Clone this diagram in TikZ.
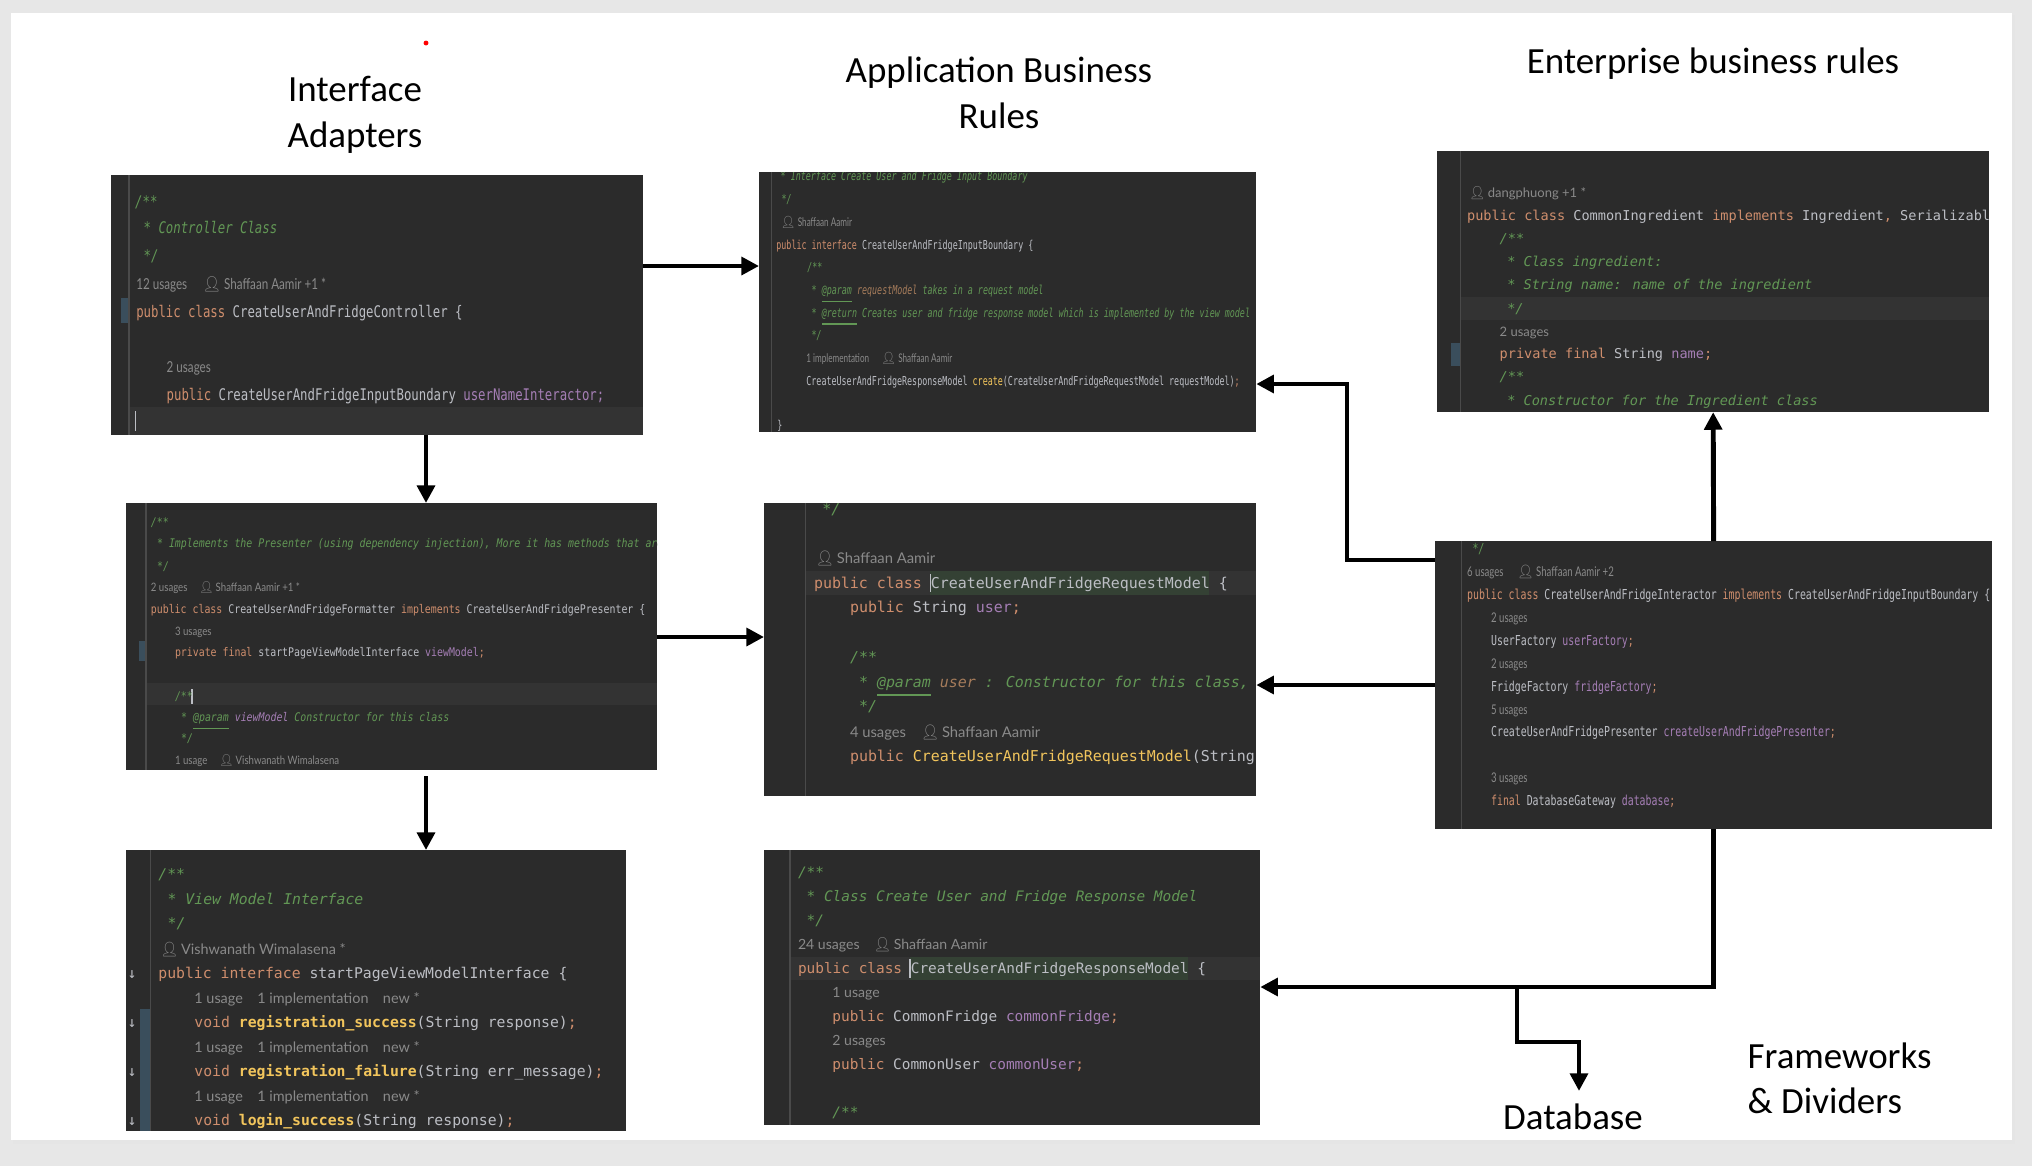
\documentclass[tikz,border=0pt]{standalone}
\usepackage{fontspec}
\usetikzlibrary{arrows.meta}
\newfontfamily\titlefont{Carlito}
\newfontfamily\emofont{Noto Emoji}
\newcommand\pf[2]{\fontspec[FakeStretch=#1]{DejaVu Sans Mono}\fontsize{#2pt}{#2pt}\selectfont}
\newcommand\hf[2]{\fontspec[FakeStretch=#1]{Lato}\fontsize{#2pt}{#2pt}\selectfont}
\definecolor{pagebg}{HTML}{E7E7E7}
\definecolor{ide}{HTML}{2B2B2B}
\definecolor{rowbg}{HTML}{333333}
\definecolor{clshl}{HTML}{344134}
\definecolor{gutline}{HTML}{4A4A4A}
\definecolor{chg}{HTML}{3A4E5C}
\definecolor{txt}{HTML}{BCBEC4}
\definecolor{kwd}{HTML}{CF8E6D}
\definecolor{cmt}{HTML}{629755}
\definecolor{fldc}{HTML}{A57EB5}
\definecolor{prmc}{HTML}{A67C5B}
\definecolor{mthc}{HTML}{F2C55C}
\definecolor{hnt}{HTML}{8A8A8A}
\newcommand\kw[1]{\textcolor{kwd}{#1}}
\newcommand\cmnt[1]{\textcolor{cmt}{\itshape #1}}
\newcommand\fld[1]{\textcolor{fldc}{#1}}
\newcommand\prm[1]{\textcolor{prmc}{#1}}
\newcommand\mth[1]{\textcolor{mthc}{#1}}
\newcommand\tg[1]{\underline{#1}}
\newcommand\usr{{\emofont\char"1F464}\,}
\tikzset{
  panel/.style={fill=ide, anchor=north west, inner sep=0pt, outer sep=0pt},
  ln/.style={anchor=base west, inner sep=0pt, text=txt},
  flow/.style={line width=1.4pt, -{Triangle[length=5pt,width=5pt]}},
  title/.style={font=\titlefont\fontsize{10.5pt}{12.8pt}\selectfont, align=center, anchor=base},
  gut/.style={draw=gutline, line width=0.3pt},
}
\begin{document}
\begin{tikzpicture}[x=0.01cm,y=-0.01cm]
\useasboundingbox (0,0) rectangle (2032,1166);
\fill[pagebg] (0,0) rectangle (2032,1166);
\fill[black!10] (13,15) rectangle (2015,1144);
\fill[white] (11,13) rectangle (2012,1140);
\fill[red] (426,43) circle (0.7pt);
% titles (base = last line)
\node[title] (tia) at (355,147) {Interface\\Adapters};
\node[title] (tabr) at (999,128) {Application Business\\Rules};
\node[title] (tebr) at (1713,73) {Enterprise business rules};
\node[title] (db) at (1573,1129) {Database};
\node[title, anchor=base west, align=left, inner sep=0pt] (tfd) at (1747,1113) {Frameworks\\\& Dividers};
% code screenshots
\node[panel, minimum width=5.32cm, minimum height=2.60cm] (ctrl) at (111,175) {};
\node[panel, minimum width=4.97cm, minimum height=2.60cm] (ibound) at (759,172) {};
\node[panel, minimum width=5.52cm, minimum height=2.61cm] (ingr) at (1437,151) {};
\node[panel, minimum width=5.31cm, minimum height=2.67cm] (fmt) at (126,503) {};
\node[panel, minimum width=4.92cm, minimum height=2.93cm] (reqm) at (764,503) {};
\node[panel, minimum width=5.57cm, minimum height=2.88cm] (inter) at (1435,541) {};
\node[panel, minimum width=5.00cm, minimum height=2.81cm] (vmi) at (126,850) {};
\node[panel, minimum width=4.96cm, minimum height=2.75cm] (resp) at (764,850) {};
% controller
\begin{scope}[shift={(ctrl.north west)}, code/.style={ln, font=\pf{0.77}{4.55}}, hint/.style={ln, text=hnt, font=\hf{0.77}{4.3}}]
  \clip (0,0) rectangle (532,260);
  \fill[rowbg] (18,232) rectangle (532,260);
  \fill[chg] (9.6,123) rectangle (18,148);
  \draw[gut] (18,0) -- (18,260);
  \draw[txt, line width=0.4pt] (24.6,236) -- (24.6,256);
  \node[code] (c1) at (23.5,32) {\cmnt{/**}};
  \node[code] (c2) at (32,58) {\cmnt{* Controller Class}};
  \node[code] (c3) at (32,86) {\cmnt{*/}};
  \node[hint] (c4) at (24.6,114) {12 usages\quad\usr Shaffaan Aamir +1 *};
  \node[code] (c5) at (24.6,142) {\kw{public class} CreateUserAndFridgeController \{};
  \node[hint] (c6) at (55,197) {2 usages};
  \node[code] (c7) at (55,225) {\kw{public} CreateUserAndFridgeInputBoundary \fld{userNameInteractor;}};
\end{scope}
% input boundary
\begin{scope}[shift={(ibound.north west)}, code/.style={ln, font=\pf{0.68}{3.5}}, hint/.style={ln, text=hnt, font=\hf{0.68}{3.4}}]
  \clip (0,0) rectangle (497,260);
  \draw[gut] (12.7,0) -- (12.7,260);
  \node[code] (b1) at (21,8) {\cmnt{* Interface Create User and Fridge Input Boundary}};
  \node[code] (b2) at (22,31) {\cmnt{*/}};
  \node[hint] (b3) at (21,54) {\usr Shaffaan Aamir};
  \node[code] (b4) at (16.7,77) {\kw{public interface} CreateUserAndFridgeInputBoundary \{};
  \node[code] (b5) at (47.7,99) {\cmnt{/**}};
  \node[code] (b6) at (52,122) {\cmnt{* \tg{@param} \prm{requestModel} takes in a request model}};
  \node[code] (b7) at (52,145) {\cmnt{* \tg{@return} Creates user and fridge response model which is implemented by the view model}};
  \node[code] (b8) at (52,167) {\cmnt{*/}};
  \node[hint] (b9) at (46.7,190) {1 implementation\quad\usr Shaffaan Aamir};
  \node[code] (b10) at (46.7,213) {CreateUserAndFridgeResponseModel \mth{create}(CreateUserAndFridgeRequestModel requestModel)\kw{;}};
  \node[code] (b11) at (17.7,257) {\}};
\end{scope}
% ingredient
\begin{scope}[shift={(ingr.north west)}, code/.style={ln, font=\pf{1}{3.86}}, hint/.style={ln, text=hnt, font=\hf{1}{3.7}}]
  \clip (0,0) rectangle (552,261);
  \fill[rowbg] (23.7,145.7) rectangle (552,169);
  \fill[chg] (14,192) rectangle (22.5,215);
  \draw[gut] (23.7,0) -- (23.7,261);
  \node[hint] (g1) at (31.4,46) {\usr dangphuong +1 *};
  \node[code] (g2) at (29.4,69) {\kw{public class} CommonIngredient \kw{implements} Ingredient\kw{,} Serializable \{};
  \node[code] (g3) at (62,92) {\cmnt{/**}};
  \node[code] (g4) at (69.6,115) {\cmnt{* Class ingredient:}};
  \node[code] (g5) at (69.6,138) {\cmnt{* String name: name of the ingredient}};
  \node[code] (g6) at (69.6,162) {\cmnt{*/}};
  \node[hint] (g7) at (62,185) {2 usages};
  \node[code] (g8) at (62,207) {\kw{private final} String \fld{name}\kw{;}};
  \node[code] (g9) at (62,230) {\cmnt{/**}};
  \node[code] (g10) at (69.6,254) {\cmnt{* Constructor for the Ingredient class}};
\end{scope}
% formatter
\begin{scope}[shift={(fmt.north west)}, code/.style={ln, font=\pf{0.83}{3.39}}, hint/.style={ln, text=hnt, font=\hf{0.83}{3.3}}]
  \clip (0,0) rectangle (531,267);
  \fill[rowbg] (20,180) rectangle (531,202);
  \fill[chg] (13,138) rectangle (19.4,158);
  \draw[gut] (20,0) -- (20,267);
  \draw[txt, line width=0.4pt] (66,186) -- (66,201);
  \node[code] (f1) at (24.2,23) {\cmnt{/**}};
  \node[code] (f2) at (30.4,44.5) {\cmnt{* Implements the Presenter (using dependency injection), More it has methods that are}};
  \node[code] (f3) at (30.4,67) {\cmnt{*/}};
  \node[hint] (f4) at (24.2,88) {2 usages\quad\usr Shaffaan Aamir +1 *};
  \node[code] (f5) at (24.2,110) {\kw{public class} CreateUserAndFridgeFormatter \kw{implements} CreateUserAndFridgePresenter \{};
  \node[hint] (f6) at (48.3,132) {3 usages};
  \node[code] (f7) at (48.3,153) {\kw{private final} startPageViewModelInterface \fld{viewModel}\kw{;}};
  \node[code] (f8) at (48.3,197) {\cmnt{/**}};
  \node[code] (f9) at (54.5,218) {\cmnt{* \tg{@param} \fld{viewModel} Constructor for this class}};
  \node[code] (f10) at (54.5,239) {\cmnt{*/}};
  \node[hint] (f11) at (48.3,261) {1 usage\quad\usr Vishwanath Wimalasena};
\end{scope}
% request model
\begin{scope}[shift={(reqm.north west)}, code/.style={ln, font=\pf{1}{4.25}}, hint/.style={ln, text=hnt, font=\hf{1}{4.2}}]
  \clip (0,0) rectangle (492,293);
  \fill[rowbg] (41.7,68.3) rectangle (492,91.7);
  \fill[clshl] (166.3,68.3) rectangle (445.3,91.7);
  \draw[gut] (41.7,0) -- (41.7,293);
  \draw[txt, line width=0.4pt] (166.3,71) -- (166.3,89);
  \node[code] (r1) at (57.7,11) {\cmnt{*/}};
  \node[hint] (r2) at (51,60) {\usr Shaffaan Aamir};
  \node[code] (r3) at (49.3,85) {\kw{public class} CreateUserAndFridgeRequestModel \{};
  \node[code] (r4) at (85.3,109) {\kw{public} String \fld{user}\kw{;}};
  \node[code] (r5) at (85.3,159) {\cmnt{/**}};
  \node[code] (r6) at (94.3,184) {\cmnt{* \tg{@param} \prm{user} : Constructor for this class,}};
  \node[code] (r7) at (94.3,208) {\cmnt{*/}};
  \node[hint] (r8) at (85.3,234) {4 usages\quad\usr Shaffaan Aamir};
  \node[code] (r9) at (85.3,258) {\kw{public} \mth{CreateUserAndFridgeRequestModel}(String};
\end{scope}
% interactor
\begin{scope}[shift={(inter.north west)}, code/.style={ln, font=\pf{0.72}{3.9}}, hint/.style={ln, text=hnt, font=\hf{0.72}{3.8}}]
  \clip (0,0) rectangle (557,288);
  \draw[gut] (26.4,0) -- (26.4,288);
  \node[code] (n1) at (37,12) {\cmnt{*/}};
  \node[hint] (n2) at (31.4,35) {6 usages\quad\usr Shaffaan Aamir +2};
  \node[code] (n3) at (31.4,58) {\kw{public class} CreateUserAndFridgeInteractor \kw{implements} CreateUserAndFridgeInputBoundary \{};
  \node[hint] (n4) at (55.4,81) {2 usages};
  \node[code] (n5) at (55.4,104) {UserFactory \fld{userFactory}\kw{;}};
  \node[hint] (n6) at (55.4,127) {2 usages};
  \node[code] (n7) at (55.4,150) {FridgeFactory \fld{fridgeFactory}\kw{;}};
  \node[hint] (n8) at (55.4,173) {5 usages};
  \node[code] (n9) at (55.4,195) {CreateUserAndFridgePresenter \fld{createUserAndFridgePresenter}\kw{;}};
  \node[hint] (n10) at (55.4,241) {3 usages};
  \node[code] (n11) at (55.4,264) {\kw{final} DatabaseGateway \fld{database}\kw{;}};
\end{scope}
% view model interface
\begin{scope}[shift={(vmi.north west)}, code/.style={ln, font=\pf{1}{4.2}}, hint/.style={ln, text=hnt, font=\hf{1}{4.1}}]
  \clip (0,0) rectangle (500,281);
  \fill[chg] (14.3,159) rectangle (24.3,281);
  \draw[gut] (24.3,0) -- (24.3,281);
  \node[code] (v1) at (31.7,29.5) {\cmnt{/**}};
  \node[code] (v2) at (41,54) {\cmnt{* View Model Interface}};
  \node[code] (v3) at (41,78) {\cmnt{*/}};
  \node[hint] (v4) at (33.7,104) {\usr Vishwanath Wimalasena *};
  \node[code] (v5) at (31.7,128) {\kw{public interface} startPageViewModelInterface \{};
  \node[hint] (v6) at (67.7,153) {1 usage\quad 1 implementation\quad new *};
  \node[code] (v7) at (67.7,177) {\kw{void} \mth{\bfseries registration\_success}(String response)\kw{;}};
  \node[hint] (v8) at (67.7,202) {1 usage\quad 1 implementation\quad new *};
  \node[code] (v9) at (67.7,226) {\kw{void} \mth{\bfseries registration\_failure}(String err\_message)\kw{;}};
  \node[hint] (v10) at (67.7,251) {1 usage\quad 1 implementation\quad new *};
  \node[code] (v11) at (67.7,275) {\kw{void} \mth{\bfseries login\_success}(String response)\kw{;}};
  \node[code] (m1) at (1,128) {↓};
  \node[code] (m2) at (1,177) {↓};
  \node[code] (m3) at (1,226) {↓};
  \node[code] (m4) at (1,275) {↓};
\end{scope}
% response model
\begin{scope}[shift={(resp.north west)}, code/.style={ln, font=\pf{1}{4.1}}, hint/.style={ln, text=hnt, font=\hf{1}{4.0}}]
  \clip (0,0) rectangle (496,275);
  \fill[rowbg] (26,106.7) rectangle (496,130);
  \fill[clshl] (146,106.7) rectangle (423.5,130);
  \draw[gut] (26,0) -- (26,275);
  \draw[txt, line width=0.4pt] (146,109) -- (146,128);
  \node[code] (s1) at (33.3,27) {\cmnt{/**}};
  \node[code] (s2) at (42,51) {\cmnt{* Class Create User and Fridge Response Model}};
  \node[code] (s3) at (42,75) {\cmnt{*/}};
  \node[hint] (s4) at (33.3,99) {24 usages\quad\usr Shaffaan Aamir};
  \node[code] (s5) at (33.3,123) {\kw{public class} CreateUserAndFridgeResponseModel \{};
  \node[hint] (s6) at (67.7,147) {1 usage};
  \node[code] (s7) at (67.7,171) {\kw{public} CommonFridge \fld{commonFridge}\kw{;}};
  \node[hint] (s8) at (67.7,195) {2 usages};
  \node[code] (s9) at (67.7,219) {\kw{public} CommonUser \fld{commonUser}\kw{;}};
  \node[code] (s10) at (67.7,267) {\cmnt{/**}};
\end{scope}
% arrows
\coordinate (below) at (426,776);
\coordinate (split) at (1517,987);
\draw[flow] (ctrl.east |- 0,266) -- (ibound.west |- 0,266);
\draw[flow] (ctrl.south -| 426,0) -- (fmt.north -| 426,0);
\draw[flow] (fmt.east |- 0,637) -- (reqm.west |- 0,637);
\draw[flow] (below) -- (vmi.north -| below);
\draw[flow] (inter.west |- 0,560) -| (1347,384) -- (ibound.east |- 0,384);
\draw[flow] (inter.west |- 0,685) -- (reqm.east |- 0,685);
\draw[flow] (inter.north) -- (ingr.south);
\draw[flow] (inter.south) |- (resp.east |- split);
\draw[flow] (split) -- (1517,1042) -| (db.north -| 1579,0);
\end{tikzpicture}
\end{document}
